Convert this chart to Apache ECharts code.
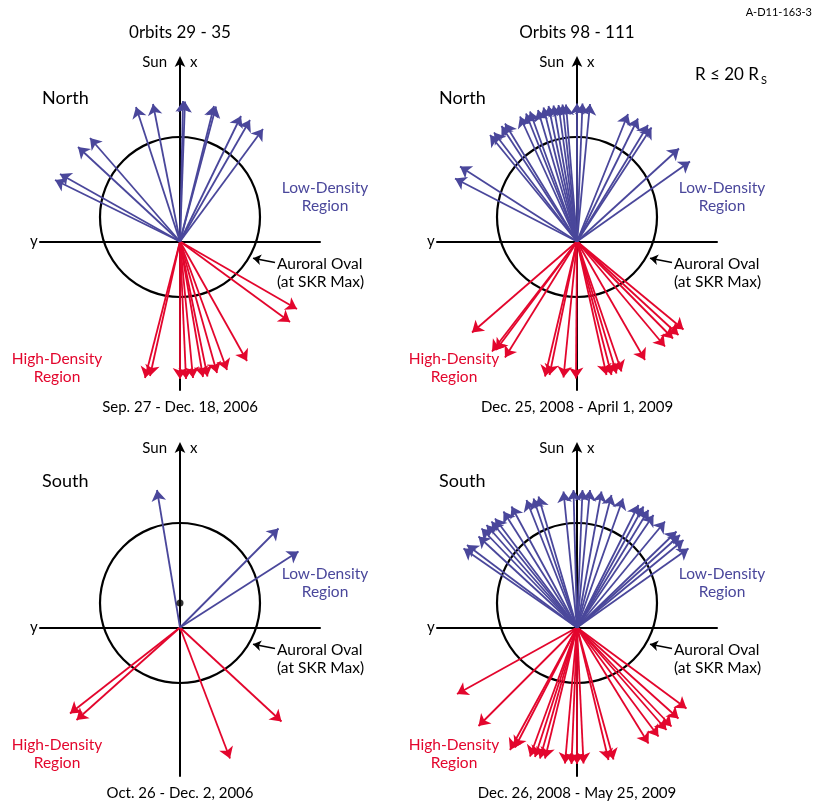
<!DOCTYPE html>
<html>
<head>
<meta charset="utf-8">
<script src="https://cdn.jsdelivr.net/npm/echarts@6/dist/echarts.min.js"></script>
<style>
  html, body { margin: 0; padding: 0; background: #fff; }
  #chart { width: 814px; height: 806px; }
</style>
</head>
<body>
<div id="chart"></div>
<script>
// Direction vectors of the source regions, [horizontal (+ toward dusk), along x toward the Sun].
// Blue = low-density region, red = high-density region.

const north2006Low = [
  [-12.5, 6.15], [-12.0, 6.75], [-10.2, 9.45], [-9.0, 10.35], [-4.4, 13.45], [-2.7, 13.75],
  [0.3, 14.05], [0.5, 14.0], [3.4, 13.55], [3.6, 13.5], [6.1, 12.55], [7.0, 12.15], [8.3, 11.25]
];
const north2006High = [
  [-3.5, -13.65], [-3.0, -13.45], [0.0, -13.75], [0.6, -13.75], [1.3, -13.65], [2.3, -13.55],
  [2.75, -13.5], [3.7, -13.15], [4.7, -12.85], [6.7, -11.95], [11.0, -8.05], [11.7, -6.75]
];

const north2009Low = [
  [-12.2, 6.3], [-11.7, 7.5], [-8.7, 10.65], [-8.3, 10.9], [-7.55, 11.55], [-7.2, 11.8],
  [-5.7, 12.5], [-5.1, 12.8], [-4.7, 13.0], [-3.9, 13.15], [-3.35, 13.4], [-2.85, 13.55],
  [-2.35, 13.6], [-1.85, 13.65], [-1.45, 13.7], [-1.1, 13.7], [0.0, 13.8], [0.55, 13.8],
  [1.3, 13.75], [5.1, 12.75], [6.1, 12.3], [7.1, 11.65], [7.45, 11.4], [10.2, 9.3], [11.3, 8.0]
];
const north2009High = [
  [-10.5, -9.1], [-8.5, -11.0], [-8.1, -10.85], [-7.2, -11.6], [-3.2, -13.5], [-2.75, -13.35],
  [-1.35, -13.6], [-0.1, -13.7], [2.95, -13.35], [3.45, -13.35], [3.95, -13.2], [4.45, -13.0],
  [6.8, -11.85], [8.8, -10.5], [9.6, -9.7], [10.15, -9.35], [10.65, -8.8]
];

const south2006Low = [[-2.3, 13.75], [9.85, 9.9], [11.85, 7.6]];
const south2006High = [[-11.0, -8.6], [-10.35, -9.25], [5.0, -13.1], [10.15, -9.4]];
const south2006Marker = [[0, 2.45]];

const south2009Low = [
  [-11.35, 7.9], [-11.0, 8.25], [-9.85, 9.1], [-9.55, 9.9], [-9.05, 10.25], [-8.55, 10.6],
  [-8.2, 10.9], [-7.35, 11.6], [-6.55, 12.1], [-5.05, 12.75], [-4.35, 12.9], [-3.85, 13.1],
  [-1.35, 13.6], [-0.35, 13.75], [0.55, 13.75], [1.3, 13.75], [2.45, 13.6], [3.45, 13.25],
  [4.6, 12.9], [6.15, 12.25], [6.65, 12.1], [7.15, 11.75], [7.65, 11.25], [8.8, 10.6],
  [9.95, 9.6], [10.3, 9.25], [10.65, 8.75], [11.15, 7.9]
];
const south2009High = [
  [-12.0, -6.65], [-9.85, -9.85], [-6.7, -12.25], [-6.2, -12.0], [-4.7, -12.9], [-4.2, -12.95],
  [-3.7, -13.1], [-3.2, -13.1], [-1.2, -13.6], [-0.55, -13.65], [0.0, -13.65], [0.65, -13.6],
  [3.15, -13.25], [3.65, -13.2], [7.15, -11.6], [8.15, -10.9], [8.95, -10.25], [9.45, -9.9],
  [10.15, -9.1], [10.95, -8.1]
];

// auroral oval at SKR maximum: [centre horizontal, centre x, radius]
const auroralOval = [[0, 2.45, 8.0]];
// pointer from the oval label to the oval
const ovalPointer = [[9.5, -2.1], [7.3, -1.68]];

const orbitTitles = ['0rbits 29 - 35', 'Orbits 98 - 111'];
const hemispheres = ['North', 'South'];
const dateRanges = [
  'Sep. 27 - Dec. 18, 2006', 'Dec. 25, 2008 - April 1, 2009',
  'Oct. 26 - Dec. 2, 2006', 'Dec. 26, 2008 - May 25, 2009'
];

const BLUE = '#4a479b';
const RED = '#e3062d';
const FONT = 'Lato, "Open Sans", sans-serif';

const panels = [
  { left: 40, top: 60, low: north2006Low, high: north2006High, date: dateRanges[0], hemi: hemispheres[0] },
  { left: 437, top: 60, low: north2009Low, high: north2009High, date: dateRanges[1], hemi: hemispheres[0] },
  { left: 40, top: 446, low: south2006Low, high: south2006High, date: dateRanges[2], hemi: hemispheres[1] },
  { left: 437, top: 446, low: south2009Low, high: south2009High, date: dateRanges[3], hemi: hemispheres[1] }
];

const grid = [], xAxis = [], yAxis = [], series = [], graphic = [];

function txt(text, x, y, size, color, align) {
  graphic.push({
    type: 'text', x, y, silent: true,
    style: { text, font: size + 'px ' + FONT, fill: color, align: align || 'left', verticalAlign: 'middle' }
  });
}

function arrows(i, vecs, color, z) {
  return {
    type: 'lines', coordinateSystem: 'cartesian2d', xAxisIndex: i, yAxisIndex: i,
    silent: true, z, symbol: ['none', 'arrow'], symbolSize: 11,
    lineStyle: { color, width: 1.8, opacity: 1 },
    data: vecs.map(v => ({ coords: [[0, 0], v] }))
  };
}

panels.forEach((p, i) => {
  grid.push({ left: p.left, top: p.top, width: 280, height: 330 });
  xAxis.push({
    type: 'value', gridIndex: i, min: -14, max: 14,
    axisLine: { onZero: true, lineStyle: { color: '#000', width: 2 } },
    axisTick: { show: false }, axisLabel: { show: false }, splitLine: { show: false }
  });
  yAxis.push({
    type: 'value', gridIndex: i, min: -14.85, max: 18.15,
    axisLine: { onZero: true, symbol: ['none', 'arrow'], symbolSize: [8, 11], symbolOffset: [0, 4],
      lineStyle: { color: '#000', width: 2 } },
    axisTick: { show: false }, axisLabel: { show: false }, splitLine: { show: false }
  });

  series.push({
    type: 'custom', xAxisIndex: i, yAxisIndex: i, silent: true, z: 2,
    data: auroralOval,
    renderItem: (params, api) => {
      const c = api.coord([api.value(0), api.value(1)]);
      const r = api.size([api.value(2), 0])[0];
      return { type: 'circle', shape: { cx: c[0], cy: c[1], r },
        style: { fill: 'none', stroke: '#000', lineWidth: 2.2 } };
    }
  });
  series.push(arrows(i, p.high, RED, 3));
  series.push(arrows(i, p.low, BLUE, 4));
  series.push({
    type: 'lines', coordinateSystem: 'cartesian2d', xAxisIndex: i, yAxisIndex: i,
    silent: true, z: 3, symbol: ['none', 'arrow'], symbolSize: 8,
    lineStyle: { color: '#000', width: 1.6, opacity: 1 },
    data: [{ coords: ovalPointer }]
  });

  const ox = p.left + 140, oy = p.top + 181.5;
  txt('Sun', ox - 13, oy - 179, 15, '#000', 'right');
  txt('x', ox + 10, oy - 179, 15, '#000', 'left');
  txt('y', ox - 150, oy, 15, '#000', 'left');
  txt(p.hemi, ox - 138, oy - (i < 2 ? 143 : 146), 18, '#000', 'left');
  txt('Low-Density', ox + 145, oy - 54, 15.5, BLUE, 'center');
  txt('Region', ox + 145, oy - 36, 15.5, BLUE, 'center');
  txt('Auroral Oval', ox + 97, oy + 22.5, 15.5, '#000', 'left');
  txt('(at SKR Max)', ox + 97, oy + 40, 15.5, '#000', 'left');
  txt('High-Density', ox - 123, oy + 117, 15.5, RED, 'center');
  txt('Region', ox - 123, oy + 135.5, 15.5, RED, 'center');
  txt(p.date, ox, oy + 166, 15, '#000', 'center');
});

series.push({
  type: 'scatter', xAxisIndex: 2, yAxisIndex: 2, silent: true, z: 5,
  symbolSize: 7, itemStyle: { color: '#000' }, data: south2006Marker
});

txt(orbitTitles[0], 180, 33, 17, '#000', 'center');
txt(orbitTitles[1], 577, 33, 17, '#000', 'center');
txt('A-D11-163-3', 812, 12, 11, '#000', 'right');
txt('R ≤ 20 R', 695, 75, 17, '#000', 'left');
txt('S', 761, 80, 11, '#000', 'left');

const chart = echarts.init(document.getElementById('chart'), null, { renderer: 'canvas' });
chart.setOption({
  animation: false,
  backgroundColor: '#fff',
  grid, xAxis, yAxis, series, graphic
});
</script>
</body>
</html>
